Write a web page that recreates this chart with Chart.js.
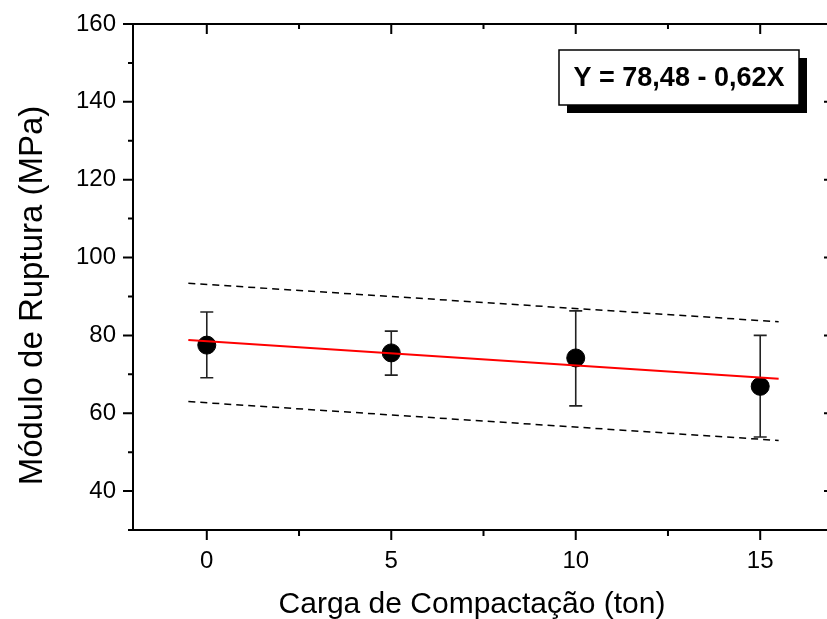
<!DOCTYPE html>
<html>
<head>
<meta charset="utf-8">
<script src="https://cdn.jsdelivr.net/npm/chart.js@4.4.0/dist/chart.umd.min.js"></script>
<style>
  html, body { margin: 0; padding: 0; overflow: hidden; background: #fff; }
</style>
</head>
<body>
<canvas id="myChart" width="845" height="619"></canvas>
<script>
// data
var xValues  = [0, 5, 10, 15];
var yMeans   = [77.5, 75.5, 74.2, 66.9];
var yErrLow  = [69.1, 69.8, 61.9, 53.9];
var yErrHigh = [86.0, 81.1, 86.3, 80.0];

// fitted line Y = 78,48 - 0,62X, drawn between -0.5 and 15.5
var fitX = [-0.5, 15.5];
var fitY = [78.79, 68.87];

// dashed bands
var bandX  = [-0.5, 15.5];
var upperY = [93.4, 83.5];
var lowerY = [63.0, 53.0];

var xTicks = [0, 5, 10, 15];
var xMinor = [2.5, 7.5, 12.5];
var yTicks = [40, 60, 80, 100, 120, 140, 160];
var yMinor = [30, 50, 70, 90, 110, 130, 150];

var equationText = "Y = 78,48 - 0,62X";
var xTitle = "Carga de Compactação (ton)";
var yTitle = "Módulo de Ruptura (MPa)";

var FONT = "'Liberation Sans', Arial, sans-serif";

function pts(xs, ys) {
    return xs.map(function (x, i) { return { x: x, y: ys[i] }; });
}

// error bars, frame, minor ticks, titles and the equation box
var extras = {
    id: 'extras',
    beforeDatasetsDraw: function (chart) {
        var ctx = chart.ctx, xs = chart.scales.x, ys = chart.scales.y;
        ctx.save();
        ctx.strokeStyle = '#222';
        ctx.lineWidth = 1.6;
        for (var i = 0; i < xValues.length; i++) {
            var px = xs.getPixelForValue(xValues[i]);
            var top = ys.getPixelForValue(yErrHigh[i]);
            var bot = ys.getPixelForValue(yErrLow[i]);
            ctx.beginPath();
            ctx.moveTo(px, top); ctx.lineTo(px, bot);
            ctx.moveTo(px - 6.5, top); ctx.lineTo(px + 6.5, top);
            ctx.moveTo(px - 6.5, bot); ctx.lineTo(px + 6.5, bot);
            ctx.stroke();
        }
        ctx.restore();
    },
    afterDraw: function (chart) {
        var ctx = chart.ctx, a = chart.chartArea;
        var xs = chart.scales.x, ys = chart.scales.y;
        ctx.save();
        ctx.strokeStyle = '#000';
        ctx.lineWidth = 2;
        ctx.strokeRect(a.left, a.top, a.right - a.left, a.bottom - a.top);

        ctx.beginPath();
        xTicks.forEach(function (v) {
            var p = xs.getPixelForValue(v);
            ctx.moveTo(p, a.bottom); ctx.lineTo(p, a.bottom + 10);
            ctx.moveTo(p, a.top); ctx.lineTo(p, a.top + 10);
        });
        xMinor.forEach(function (v) {
            var p = xs.getPixelForValue(v);
            ctx.moveTo(p, a.bottom); ctx.lineTo(p, a.bottom + 6);
            ctx.moveTo(p, a.top); ctx.lineTo(p, a.top + 5);
        });
        yTicks.forEach(function (v) {
            var p = ys.getPixelForValue(v);
            ctx.moveTo(a.left, p); ctx.lineTo(a.left - 10, p);
            ctx.moveTo(a.right, p); ctx.lineTo(a.right - 10, p);
        });
        yMinor.forEach(function (v) {
            var p = ys.getPixelForValue(v);
            ctx.moveTo(a.left, p); ctx.lineTo(a.left - 5, p);
            ctx.moveTo(a.right, p); ctx.lineTo(a.right - 5, p);
        });
        ctx.stroke();

        // axis titles
        ctx.fillStyle = '#000';
        ctx.font = '30px ' + FONT;
        ctx.textAlign = 'center';
        ctx.textBaseline = 'alphabetic';
        ctx.fillText(xTitle, 472, 613);

        ctx.save();
        ctx.translate(41.5, 295.5);
        ctx.rotate(-Math.PI / 2);
        ctx.font = '33px ' + FONT;
        ctx.fillText(yTitle, 0, 0);
        ctx.restore();

        // equation box with shadow
        var bx = 559, by = 50, bw = 240, bh = 55;
        ctx.fillStyle = '#000';
        ctx.fillRect(bx + 8, by + 8, bw, bh);
        ctx.fillStyle = '#fff';
        ctx.fillRect(bx, by, bw, bh);
        ctx.lineWidth = 1.5;
        ctx.strokeRect(bx, by, bw, bh);
        ctx.fillStyle = '#000';
        ctx.font = 'bold 27px ' + FONT;
        ctx.textBaseline = 'middle';
        ctx.fillText(equationText, bx + bw / 2, by + bh / 2 + 1);
        ctx.restore();
    }
};

var ctx = document.getElementById("myChart");

var myChart = new Chart(ctx, {
    type: 'scatter',
    data: {
        datasets: [
            {
                label: 'Ajuste',
                data: pts(fitX, fitY),
                showLine: true,
                borderColor: '#ff0000',
                borderWidth: 2,
                pointRadius: 0
            },
            {
                label: 'Média',
                data: pts(xValues, yMeans),
                backgroundColor: '#000',
                borderColor: '#000',
                pointRadius: 9,
                pointHoverRadius: 9
            },
            {
                label: 'Superior',
                data: pts(bandX, upperY),
                showLine: true,
                borderColor: '#000',
                borderWidth: 1.5,
                borderDash: [7, 5],
                pointRadius: 0
            },
            {
                label: 'Inferior',
                data: pts(bandX, lowerY),
                showLine: true,
                borderColor: '#000',
                borderWidth: 1.5,
                borderDash: [7, 5],
                pointRadius: 0
            }
        ]
    },
    options: {
        responsive: false,
        animation: false,
        layout: { padding: { left: 0, top: 24, right: 11, bottom: 0 } },
        plugins: {
            legend: { display: false },
            tooltip: { enabled: false }
        },
        scales: {
            x: {
                type: 'linear',
                min: -2,
                max: 17,
                afterBuildTicks: function (s) { s.ticks = xTicks.map(function (v) { return { value: v }; }); },
                afterFit: function (s) {
                    s.height = 89;
                    s.paddingLeft = 0; s.paddingRight = 0;
                    s.paddingTop = 0; s.paddingBottom = 0;
                },
                grid: { display: false, drawTicks: false },
                border: { display: false },
                ticks: { color: '#000', font: { family: FONT, size: 24 }, padding: 17, maxRotation: 0 }
            },
            y: {
                type: 'linear',
                min: 30,
                max: 160,
                afterBuildTicks: function (s) { s.ticks = yTicks.map(function (v) { return { value: v }; }); },
                afterFit: function (s) {
                    s.width = 133;
                    s.paddingLeft = 0; s.paddingRight = 0;
                    s.paddingTop = 0; s.paddingBottom = 0;
                },
                grid: { display: false, drawTicks: false },
                border: { display: false },
                ticks: { color: '#000', font: { family: FONT, size: 24 }, padding: 17 }
            }
        }
    },
    plugins: [extras]
});
</script>
</body>
</html>
